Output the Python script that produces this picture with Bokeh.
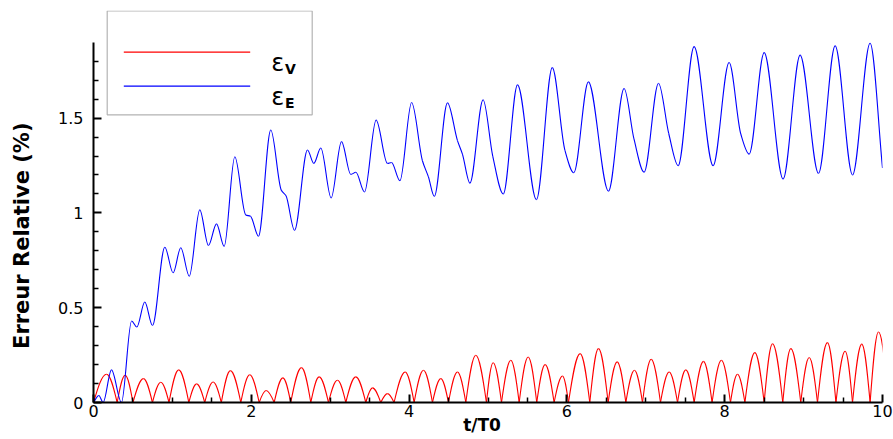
import math
from bokeh.plotting import figure
from bokeh.models import (Range1d, FixedTicker, NumeralTickFormatter, Label,
                          BoxAnnotation, Arrow, ColumnDataSource, LinearAxis)
from bokeh.embed import file_html
from bokeh.resources import INLINE

# ---------------- data ----------------
# epsilon_V : arches, zero crossings + peak positions/heights
red_zero_t = [0.0, 0.30, 0.50, 0.747, 0.957, 1.208, 1.41, 1.62, 1.867, 2.10,
              2.29, 2.50, 2.754, 2.978, 3.198, 3.451, 3.641, 3.81, 4.064, 4.296,
              4.499, 4.719, 4.98, 5.171, 5.395, 5.618, 5.838, 6.02, 6.29, 6.523,
              6.747, 6.958, 7.186, 7.402, 7.613, 7.84, 8.073, 8.256, 8.5, 8.736,
              8.964, 9.176, 9.41, 9.62, 9.843, 10.08]
red_peak_t = [0.166, 0.401, 0.633, 0.853, 1.08, 1.307, 1.516, 1.735, 1.98, 2.188,
              2.40, 2.636, 2.86, 3.092, 3.324, 3.536, 3.726, 3.95, 4.182, 4.402,
              4.613, 4.845, 5.065, 5.289, 5.509, 5.724, 5.944, 6.168, 6.40, 6.637,
              6.856, 7.068, 7.296, 7.507, 7.731, 7.958, 8.162, 8.382, 8.606, 8.838,
              9.071, 9.302, 9.526, 9.737, 9.949]
red_peak_y = [0.149, 0.144, 0.126, 0.107, 0.172, 0.098, 0.108, 0.168, 0.146, 0.063,
              0.13, 0.184, 0.135, 0.117, 0.135, 0.077, 0.047, 0.161, 0.17, 0.126,
              0.161, 0.249, 0.21, 0.223, 0.24, 0.2, 0.14, 0.258, 0.284, 0.214,
              0.17, 0.228, 0.161, 0.172, 0.217, 0.223, 0.149, 0.263, 0.31, 0.284,
              0.237, 0.316, 0.27, 0.308, 0.372]

# epsilon_E : extrema and bends of the curve
blue_t = [0.0, 0.068, 0.122, 0.228, 0.354, 0.483, 0.549, 0.650, 0.748, 0.904,
          1.009, 1.106, 1.214, 1.347, 1.457, 1.559, 1.656, 1.791, 1.93, 1.99,
          2.091, 2.247, 2.38, 2.44, 2.548, 2.712, 2.792, 2.881, 3.012, 3.143,
          3.261, 3.325, 3.435, 3.582, 3.726, 3.777, 3.884, 4.032, 4.169, 4.245,
          4.32, 4.486, 4.613, 4.676, 4.771, 4.938, 5.06, 5.194, 5.374, 5.614,
          5.815, 5.975, 6.088, 6.272, 6.527, 6.725, 6.85, 6.979, 7.161, 7.29,
          7.41, 7.612, 7.853, 8.056, 8.204, 8.31, 8.5, 8.74, 8.956, 9.189,
          9.4, 9.62, 9.843, 10.0]
blue_y = [0.0, 0.037, 0.0, 0.172, 0.0, 0.43, 0.398, 0.53, 0.406, 0.819,
          0.684, 0.816, 0.666, 1.016, 0.828, 0.942, 0.823, 1.296, 0.989, 0.982,
          0.877, 1.437, 1.12, 1.09, 0.908, 1.332, 1.261, 1.342, 1.079, 1.376,
          1.203, 1.214, 1.11, 1.489, 1.261, 1.266, 1.17, 1.582, 1.275, 1.19,
          1.087, 1.58, 1.381, 1.31, 1.157, 1.597, 1.30, 1.10, 1.675, 1.07,
          1.766, 1.33, 1.212, 1.691, 1.115, 1.656, 1.39, 1.215, 1.684, 1.42,
          1.249, 1.877, 1.249, 1.793, 1.416, 1.31, 1.845, 1.179, 1.832, 1.209,
          1.881, 1.2, 1.895, 1.237]

x_major_ticks = [0, 2, 4, 6, 8, 10]
x_tick_labels = ["0", "2", "4", "6", "8", "10"]
x_minor_ticks = [0.5, 1, 1.5, 2.5, 3, 3.5, 4.5, 5, 5.5, 6.5, 7, 7.5, 8.5, 9, 9.5]
y_major_ticks = [0, 0.5, 1, 1.5]
y_tick_labels = ["0", "0.5", "1", "1.5"]
y_minor_ticks = [0.1, 0.2, 0.3, 0.4, 0.6, 0.7, 0.8, 0.9, 1.1, 1.2, 1.3, 1.4,
                 1.6, 1.7, 1.8]

series_labels = ["V", "E"]
x_label = "t/T0"
y_label = "Erreur Relative (%)"

RED = "#ff0000"
BLUE = "#0000ff"
FONT = "DejaVu Sans"
NBSP = "\u00a0"

# ---------------- geometry of curves (bezier segments) ----------------
def empty():
    return dict(x0=[], y0=[], x1=[], y1=[], cx0=[], cy0=[], cx1=[], cy1=[])

def add(d, x0, y0, x1, y1, cx0, cy0, cx1, cy1):
    for k, v in zip(("x0", "y0", "x1", "y1", "cx0", "cy0", "cx1", "cy1"),
                    (x0, y0, x1, y1, cx0, cy0, cx1, cy1)):
        d[k].append(v)

# red: each arch = rising quarter sine + falling quarter sine
red = empty()
for i in range(len(red_peak_t)):
    z0, z1 = red_zero_t[i], red_zero_t[i + 1]
    tp, h = red_peak_t[i], red_peak_y[i]
    w = tp - z0
    add(red, z0, 0.0, tp, h, z0 + 0.3261 * w, 0.5123 * h, z0 + 0.6381 * w, h)
    w = z1 - tp
    add(red, tp, h, z1, 0.0, tp + 0.3619 * w, h, tp + 0.6739 * w, 0.5123 * h)

# blue: monotone cubic (PCHIP) through the read points, drawn as beziers
n = len(blue_t)
hs = [blue_t[i + 1] - blue_t[i] for i in range(n - 1)]
ds = [(blue_y[i + 1] - blue_y[i]) / hs[i] for i in range(n - 1)]
ms = [0.0] * n
ms[0] = ds[0]
ms[-1] = ds[-1]
for k in range(1, n - 1):
    if ds[k - 1] * ds[k] <= 0:
        ms[k] = 0.0
    else:
        w1 = 2 * hs[k] + hs[k - 1]
        w2 = hs[k] + 2 * hs[k - 1]
        ms[k] = (w1 + w2) / (w1 / ds[k - 1] + w2 / ds[k])
blue = empty()
for i in range(n - 1):
    h = hs[i]
    add(blue, blue_t[i], blue_y[i], blue_t[i + 1], blue_y[i + 1],
        blue_t[i] + h / 3, blue_y[i] + ms[i] * h / 3,
        blue_t[i + 1] - h / 3, blue_y[i + 1] - ms[i + 1] * h / 3)

# ---------------- figure ----------------
p = figure(width=893, height=439, x_range=Range1d(0, 10), y_range=Range1d(0, 2.0674),
           output_backend="svg", toolbar_location=None,
           min_border_left=93, min_border_right=11, min_border_top=10, min_border_bottom=37)
p.outline_line_color = None
p.xgrid.visible = False
p.ygrid.visible = False
p.background_fill_color = "white"
p.border_fill_color = "white"

p.bezier(x0="x0", y0="y0", x1="x1", y1="y1", cx0="cx0", cy0="cy0", cx1="cx1", cy1="cy1",
         source=ColumnDataSource(red), line_color=RED, line_width=1.1)
p.bezier(x0="x0", y0="y0", x1="x1", y1="y1", cx0="cx0", cy0="cy0", cx1="cx1", cy1="cy1",
         source=ColumnDataSource(blue), line_color=BLUE, line_width=1.1)

for ax, major, minor, labels, standoff in (
        (p.xaxis[0], x_major_ticks, x_minor_ticks, x_tick_labels, 2),
        (p.yaxis[0], y_major_ticks, y_minor_ticks, y_tick_labels, 10)):
    ax.ticker = FixedTicker(ticks=major, minor_ticks=minor)
    ax.formatter = NumeralTickFormatter(format="0.[0]")
    ax.major_label_overrides = {f"{t:g}": lab for t, lab in zip(major, labels)}
    ax.axis_line_color = "black"
    ax.axis_line_width = 2
    ax.major_tick_line_color = "black"
    ax.major_tick_line_width = 2
    ax.minor_tick_line_color = "black"
    ax.minor_tick_line_width = 1.5
    ax.major_tick_in = 8
    ax.major_tick_out = 0
    ax.minor_tick_in = 5
    ax.minor_tick_out = 0
    ax.major_label_text_font = FONT
    ax.major_label_text_font_size = "16px"
    ax.major_label_text_color = "black"
    ax.major_label_standoff = standoff
p.yaxis[0].bounds = (0, 1.9)
p.xaxis[0].bounds = (0, 10)

# x title (two trailing no-break spaces nudge it left, as in the reference)
xa = p.xaxis[0]
xa.axis_label = x_label + NBSP * 2
xa.axis_label_text_font = FONT
xa.axis_label_text_font_style = "bold"
xa.axis_label_text_font_size = "17px"
xa.axis_label_text_color = "black"
xa.axis_label_standoff = -5

# y title on a bare extra axis; trailing no-break spaces move it down
ya2 = LinearAxis(axis_label=y_label + NBSP * 8, ticker=FixedTicker(ticks=[]),
                 axis_line_color=None, major_tick_line_color=None,
                 minor_tick_line_color=None, major_tick_out=0, major_tick_in=0,
                 minor_tick_out=0, minor_tick_in=0, major_label_text_font_size="0px",
                 axis_label_text_font=FONT, axis_label_text_font_style="bold",
                 axis_label_text_font_size="21px", axis_label_text_color="black",
                 axis_label_standoff=22)
p.add_layout(ya2, "left")

# legend
p.add_layout(BoxAnnotation(left=13.7, right=218.7, bottom=287.7, top=391.5,
                           left_units="screen", right_units="screen",
                           bottom_units="screen", top_units="screen",
                           fill_color="white", fill_alpha=1.0,
                           line_color="black", line_width=1.2))
for col, ly, sub in ((RED, 350.3, series_labels[0]), (BLUE, 316.3, series_labels[1])):
    p.add_layout(Arrow(end=None, x_start=30.3, y_start=ly, x_end=156.7, y_end=ly,
                       start_units="screen", end_units="screen",
                       line_color=col, line_width=1.2))
    p.add_layout(Label(x=177.7, y=ly - 10.5, x_units="screen", y_units="screen", text="ε",
                       text_font=FONT, text_font_size="24px", text_baseline="alphabetic",
                       text_align="left", text_color="black"))
    p.add_layout(Label(x=191.5, y=ly - 17, x_units="screen", y_units="screen", text=sub,
                       text_font=FONT, text_font_style="bold", text_font_size="14px",
                       text_baseline="alphabetic", text_align="left", text_color="black"))

open("out.html", "w").write(file_html(p, INLINE, "chart"))
